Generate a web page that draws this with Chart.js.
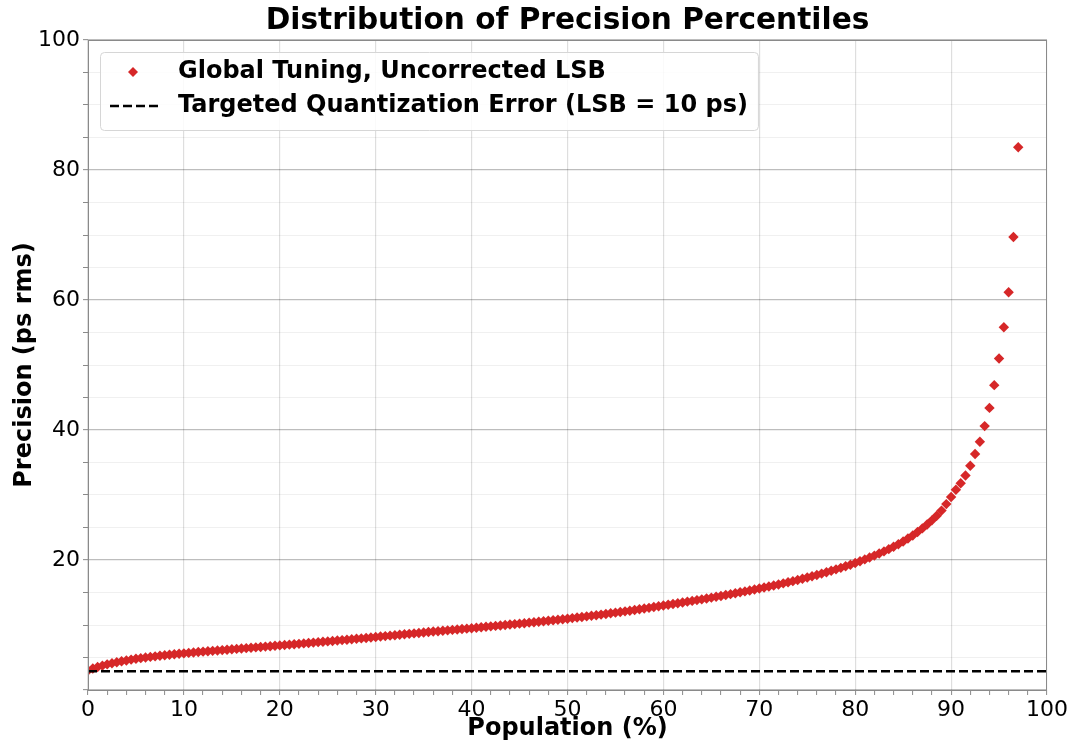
<!DOCTYPE html>
<html>
<head>
<meta charset="utf-8">
<script src="https://cdn.jsdelivr.net/npm/chart.js@4"></script>
<style>
  html, body { margin: 0; padding: 0; background: #fff; }
  canvas { display: block; }
</style>
</head>
<body>
<canvas id="precisionChart" width="1073" height="743"></canvas>
<script>
// percentile grid (%)
const populationPct = [
  0, 0.5, 1, 1.5, 2, 2.5, 3, 3.5, 4, 4.5,
  5, 5.5, 6, 6.5, 7, 7.5, 8, 8.5, 9, 9.5,
  10, 10.5, 11, 11.5, 12, 12.5, 13, 13.5, 14, 14.5,
  15, 15.5, 16, 16.5, 17, 17.5, 18, 18.5, 19, 19.5,
  20, 20.5, 21, 21.5, 22, 22.5, 23, 23.5, 24, 24.5,
  25, 25.5, 26, 26.5, 27, 27.5, 28, 28.5, 29, 29.5,
  30, 30.5, 31, 31.5, 32, 32.5, 33, 33.5, 34, 34.5,
  35, 35.5, 36, 36.5, 37, 37.5, 38, 38.5, 39, 39.5,
  40, 40.5, 41, 41.5, 42, 42.5, 43, 43.5, 44, 44.5,
  45, 45.5, 46, 46.5, 47, 47.5, 48, 48.5, 49, 49.5,
  50, 50.5, 51, 51.5, 52, 52.5, 53, 53.5, 54, 54.5,
  55, 55.5, 56, 56.5, 57, 57.5, 58, 58.5, 59, 59.5,
  60, 60.5, 61, 61.5, 62, 62.5, 63, 63.5, 64, 64.5,
  65, 65.5, 66, 66.5, 67, 67.5, 68, 68.5, 69, 69.5,
  70, 70.5, 71, 71.5, 72, 72.5, 73, 73.5, 74, 74.5,
  75, 75.5, 76, 76.5, 77, 77.5, 78, 78.5, 79, 79.5,
  80, 80.5, 81, 81.5, 82, 82.5, 83, 83.5, 84, 84.5,
  85, 85.5, 86, 86.5, 87, 87.5, 88, 88.5, 89, 89.5,
  90, 90.5, 91, 91.5, 92, 92.5, 93, 93.5, 94, 94.5,
  95, 95.5, 96, 96.5, 97
];

// precision at each percentile (ps rms)
const precisionPs = [
  3.0, 3.3, 3.55, 3.75, 3.95, 4.12, 4.28, 4.42, 4.55, 4.68,
  4.8, 4.9, 5.0, 5.09, 5.18, 5.26, 5.34, 5.42, 5.5, 5.57,
  5.64, 5.71, 5.78, 5.84, 5.9, 5.96, 6.02, 6.08, 6.14, 6.2,
  6.26, 6.32, 6.38, 6.44, 6.5, 6.56, 6.62, 6.68, 6.74, 6.8,
  6.86, 6.92, 6.98, 7.04, 7.1, 7.17, 7.23, 7.29, 7.36, 7.42,
  7.48, 7.55, 7.61, 7.68, 7.74, 7.81, 7.88, 7.94, 8.01, 8.08,
  8.15, 8.22, 8.29, 8.36, 8.43, 8.5, 8.57, 8.64, 8.71, 8.78,
  8.85, 8.92, 8.99, 9.05, 9.12, 9.18, 9.25, 9.31, 9.38, 9.44,
  9.51, 9.58, 9.65, 9.72, 9.79, 9.86, 9.93, 10.0, 10.07, 10.14,
  10.21, 10.28, 10.36, 10.43, 10.5, 10.58, 10.65, 10.73, 10.81, 10.89,
  10.97, 11.06, 11.15, 11.24, 11.33, 11.42, 11.51, 11.6, 11.7, 11.8,
  11.9, 12.0, 12.1, 12.2, 12.31, 12.42, 12.53, 12.64, 12.76, 12.88,
  13.0, 13.11, 13.23, 13.35, 13.47, 13.59, 13.71, 13.83, 13.95, 14.08,
  14.21, 14.34, 14.47, 14.61, 14.75, 14.89, 15.03, 15.17, 15.31, 15.46,
  15.61, 15.76, 15.92, 16.08, 16.24, 16.41, 16.58, 16.75, 16.93, 17.11,
  17.3, 17.5, 17.7, 17.91, 18.12, 18.34, 18.56, 18.79, 19.03, 19.28,
  19.54, 19.81, 20.09, 20.38, 20.68, 20.99, 21.32, 21.67, 22.04, 22.43,
  22.85, 23.3, 23.78, 24.3, 24.86, 25.46, 26.1, 26.8, 27.6, 28.6,
  29.7, 30.8, 31.8, 33.0, 34.5, 36.3, 38.2, 40.6, 43.4, 46.9,
  51.0, 55.8, 61.2, 69.7, 83.5
];

// targeted quantization error line (LSB = 10 ps -> 10/sqrt(12))
const quantErrX = [0, 100];
const quantErrY = [2.89, 2.89];

const xTickLabels = ['0', '10', '20', '30', '40', '50', '60', '70', '80', '90', '100'];
const yTickLabels = ['20', '40', '60', '80', '100'];

const FONT = 'DejaVu Sans';
const RED = '#d62728';

// title, frame and in-plot legend
const decorations = {
  id: 'decorations',
  afterDraw(chart) {
    const { ctx, chartArea: a } = chart;
    ctx.save();

    // axes frame
    ctx.strokeStyle = '#8a8a8a';
    ctx.lineWidth = 1;
    ctx.strokeRect(a.left + 0.5, a.top + 0.5, a.right - a.left - 1, a.bottom - a.top);

    // title
    ctx.fillStyle = '#000';
    ctx.font = 'bold 29.6px "' + FONT + '"';
    ctx.textAlign = 'center';
    ctx.textBaseline = 'middle';
    ctx.fillText('Distribution of Precision Percentiles', (a.left + a.right) / 2, 21);

    // legend
    const ds = chart.data.datasets;
    ctx.font = 'bold 24px "' + FONT + '"';
    const textX = 178;
    const rows = [72, 106];
    const tw = Math.max(...ds.map(d => ctx.measureText(d.label).width));
    const bx = 100, by = 52, bw = textX + tw + 10 - bx, bh = 78;
    ctx.beginPath();
    ctx.roundRect(bx + 0.5, by + 0.5, bw, bh, 4);
    ctx.fillStyle = 'rgba(255,255,255,0.85)';
    ctx.fill();
    ctx.strokeStyle = '#d6d6d6';
    ctx.stroke();

    // scatter marker
    ctx.fillStyle = RED;
    ctx.beginPath();
    ctx.moveTo(133, rows[0] - 5);
    ctx.lineTo(138, rows[0]);
    ctx.lineTo(133, rows[0] + 5);
    ctx.lineTo(128, rows[0]);
    ctx.closePath();
    ctx.fill();

    // dashed line marker
    ctx.strokeStyle = '#000';
    ctx.lineWidth = 2.5;
    ctx.setLineDash([9, 4]);
    ctx.beginPath();
    ctx.moveTo(110, rows[1]);
    ctx.lineTo(158, rows[1]);
    ctx.stroke();
    ctx.setLineDash([]);

    ctx.fillStyle = '#000';
    ctx.textAlign = 'left';
    ctx.textBaseline = 'middle';
    ds.forEach((d, i) => ctx.fillText(d.label, textX, rows[i]));

    ctx.restore();
  }
};

new Chart(document.getElementById('precisionChart'), {
  data: {
    datasets: [
      {
        type: 'scatter',
        label: 'Global Tuning, Uncorrected LSB',
        data: populationPct.map((x, i) => ({ x, y: precisionPs[i] })),
        pointStyle: 'rectRot',
        pointRadius: 5.2,
        pointBorderWidth: 0,
        backgroundColor: RED,
        borderColor: RED,
        order: 2
      },
      {
        type: 'line',
        label: 'Targeted Quantization Error (LSB = 10 ps)',
        data: quantErrX.map((x, i) => ({ x, y: quantErrY[i] })),
        borderColor: '#000',
        borderWidth: 2.5,
        borderDash: [9, 4],
        pointRadius: 0,
        fill: false,
        order: 1
      }
    ]
  },
  options: {
    responsive: false,
    animation: false,
    layout: { padding: { top: 40, right: 26, left: 0, bottom: 0 } },
    plugins: {
      legend: { display: false },
      title: { display: false },
      tooltip: { enabled: false }
    },
    scales: {
      x: {
        type: 'linear',
        min: 0,
        max: 100,
        afterFit(scale) { scale.height = 53; },
        border: { display: false },
        grid: {
          color: c => (c.tick && c.tick.value % 10 === 0) ? 'rgba(0,0,0,0.13)' : 'rgba(0,0,0,0)',
          lineWidth: 1.2,
          tickColor: '#8a8a8a',
          tickLength: 5,
          tickWidth: 1
        },
        ticks: {
          stepSize: 2,
          autoSkip: false,
          maxRotation: 0,
          padding: 2,
          color: '#000',
          font: { family: FONT, size: 22 },
          callback: v => xTickLabels.includes(String(v)) ? String(v) : ''
        },
        title: {
          display: true,
          text: 'Population (%)',
          color: '#000',
          font: { family: FONT, size: 24, weight: 'bold' },
          padding: { top: 0, bottom: 0 }
        }
      },
      y: {
        type: 'linear',
        min: 0,
        max: 100,
        afterFit(scale) { scale.width = 88; },
        border: { display: false },
        grid: {
          color: c => (c.tick && c.tick.value % 20 === 0) ? 'rgba(0,0,0,0.26)' : 'rgba(0,0,0,0.06)',
          lineWidth: c => (c.tick && c.tick.value % 20 === 0) ? 1.3 : 1,
          tickColor: '#8a8a8a',
          tickLength: 5,
          tickWidth: 1
        },
        ticks: {
          stepSize: 5,
          autoSkip: false,
          padding: 3,
          color: '#000',
          font: { family: FONT, size: 22 },
          callback: v => yTickLabels.includes(String(v)) ? String(v) : ''
        },
        title: {
          display: true,
          text: 'Precision (ps rms)',
          color: '#000',
          font: { family: FONT, size: 24, weight: 'bold' },
          padding: { top: 10, bottom: 0 }
        }
      }
    }
  },
  plugins: [decorations]
});
</script>
</body>
</html>
